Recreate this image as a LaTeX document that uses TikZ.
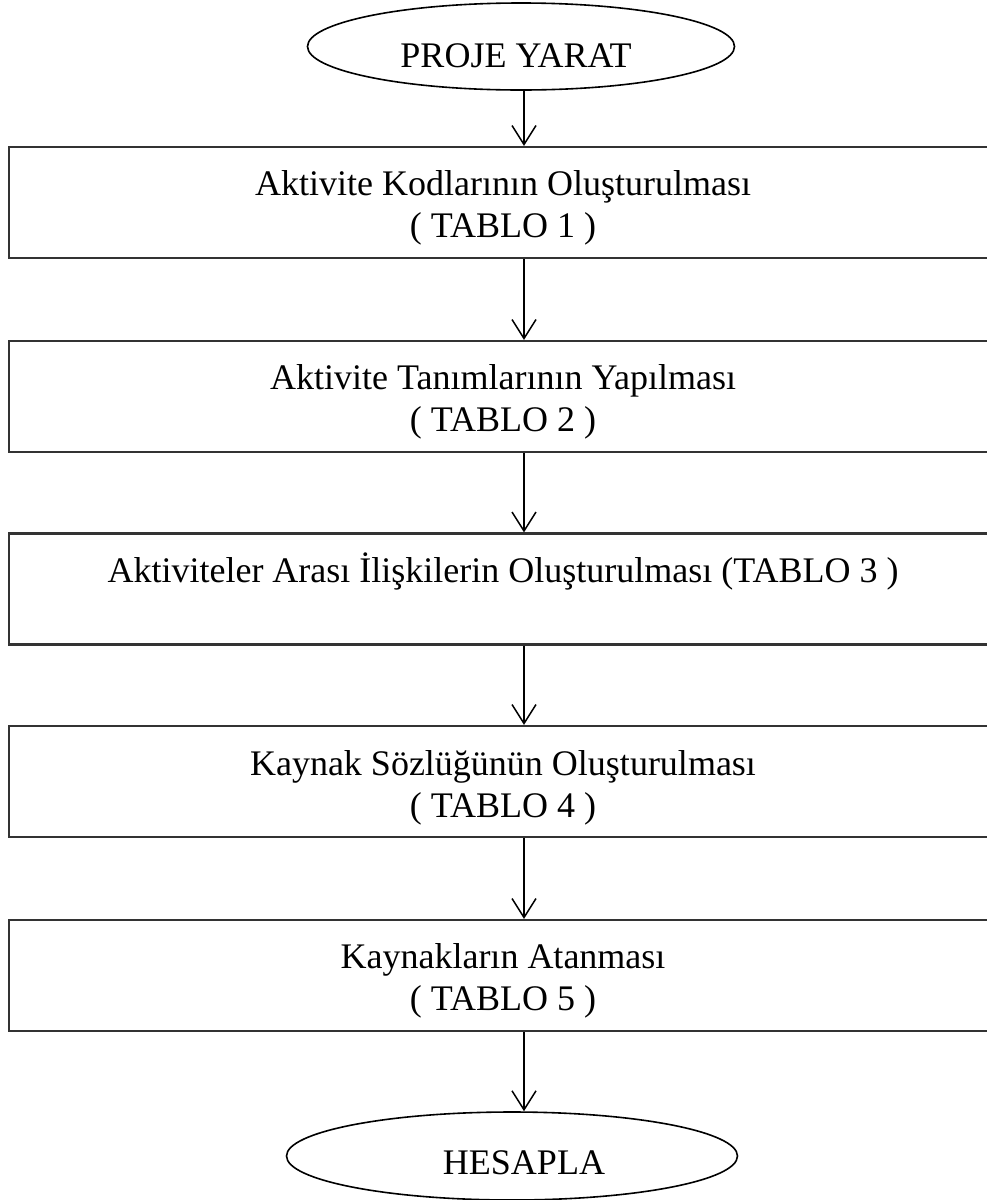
\documentclass[tikz,border=0pt]{standalone}
\usepackage{fontspec}
\setmainfont{Liberation Serif}
\usetikzlibrary{shapes.geometric,arrows.meta}

\tikzset{
  stepbox/.style={draw=black!80, line width=2.2pt, rectangle,
    minimum width=988pt, minimum height=111pt, inner sep=0pt},
  terminal/.style={draw=black, line width=1.6pt, ellipse, inner sep=0pt},
  label/.style={anchor=base, inner sep=0pt, font=\fontsize{36}{42}\selectfont},
  flow/.style={line width=1.5pt, -{Straight Barb[length=19pt,width=24pt,line width=1.5pt]}}
}

\begin{document}
\begin{tikzpicture}[x=1pt, y=-1pt]
  \useasboundingbox (0,0) rectangle (987,1200);
  \clip (0,0) rectangle (987,1200);

  % start and end terminals
  \node[terminal, minimum width=427pt, minimum height=87pt] (start) at (521,46.5) {};
  \node[label] (startT) at (516,67) {PROJE YARAT};

  \node[terminal, minimum width=451pt, minimum height=88pt] (finish) at (512,1156) {};
  \node[label] (finishT) at (524,1174) {HESAPLA};

  % process steps
  \node[stepbox] (b1) at (503,202.5) {};
  \node[label] (b1a) at (503,195) {Aktivite Kodlarının Oluşturulması};
  \node[label] (b1b) at (503,237) {( TABLO 1 )};

  \node[stepbox] (b2) at (503,396.5) {};
  \node[label] (b2a) at (503,389) {Aktivite Tanımlarının Yapılması};
  \node[label] (b2b) at (503,431) {( TABLO 2 )};

  \node[stepbox] (b3) at (503,589) {};
  \node[label] (b3a) at (503,582) {Aktiviteler Arası İlişkilerin Oluşturulması (TABLO 3 )};

  \node[stepbox] (b4) at (503,781.5) {};
  \node[label] (b4a) at (503,775) {Kaynak Sözlüğünün Oluşturulması};
  \node[label] (b4b) at (503,817) {( TABLO 4 )};

  \node[stepbox] (b5) at (503,975.5) {};
  \node[label] (b5a) at (503,968) {Kaynakların Atanması};
  \node[label] (b5b) at (503,1010) {( TABLO 5 )};

  % connectors
  \coordinate (ax) at (524,0);
  \draw[flow] (start.south -| ax) -- (b1.north -| ax);
  \draw[flow] (b1.south -| ax) -- (b2.north -| ax);
  \draw[flow] (b2.south -| ax) -- (b3.north -| ax);
  \draw[flow] (b3.south -| ax) -- (b4.north -| ax);
  \draw[flow] (b4.south -| ax) -- (b5.north -| ax);
  \draw[flow] (b5.south -| ax) -- (finish.north -| ax);
\end{tikzpicture}
\end{document}
